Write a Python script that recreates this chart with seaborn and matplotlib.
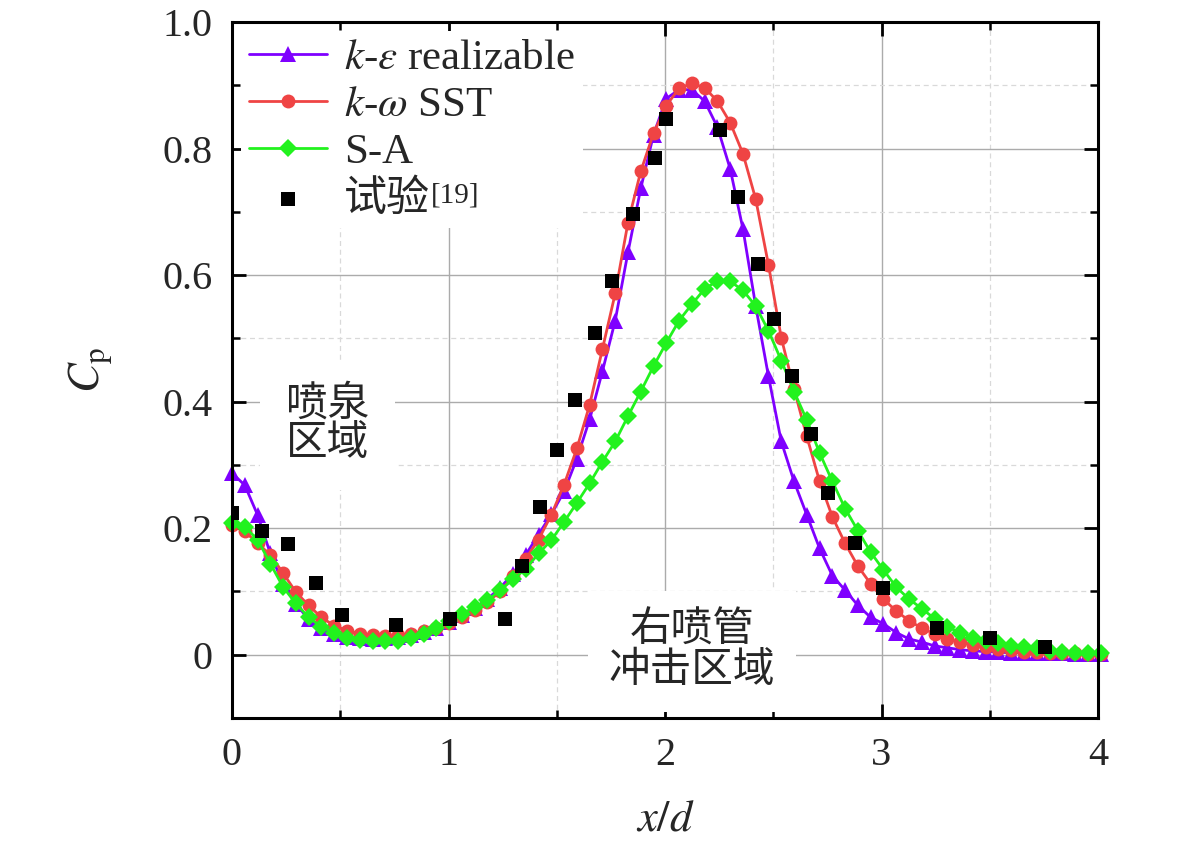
import numpy as np
import pandas as pd
import matplotlib
matplotlib.use("Agg")
import matplotlib.pyplot as plt
import seaborn as sns
from matplotlib.ticker import MultipleLocator, FuncFormatter

# ---------------- data ----------------
x_cfd = [0.000, 0.059, 0.118, 0.177, 0.236, 0.295, 0.354, 0.413, 0.472, 0.531,
         0.590, 0.649, 0.708, 0.767, 0.826, 0.885, 0.944, 1.003, 1.062, 1.121,
         1.180, 1.239, 1.298, 1.357, 1.416, 1.475, 1.534, 1.593, 1.652, 1.711,
         1.770, 1.829, 1.888, 1.947, 2.006, 2.065, 2.124, 2.183, 2.242, 2.301,
         2.360, 2.419, 2.478, 2.537, 2.596, 2.655, 2.714, 2.773, 2.832, 2.891,
         2.950, 3.009, 3.068, 3.127, 3.186, 3.245, 3.304, 3.363, 3.422, 3.481,
         3.540, 3.599, 3.658, 3.717, 3.776, 3.835, 3.894, 3.953, 4.012]

cp_ke = [0.287, 0.268, 0.221, 0.160, 0.112, 0.080, 0.056, 0.042, 0.033, 0.028,
         0.026, 0.025, 0.026, 0.028, 0.031, 0.036, 0.043, 0.052, 0.062, 0.074,
         0.088, 0.106, 0.128, 0.158, 0.190, 0.222, 0.258, 0.310, 0.372, 0.448,
         0.528, 0.636, 0.737, 0.822, 0.879, 0.893, 0.893, 0.875, 0.834, 0.768,
         0.673, 0.551, 0.440, 0.337, 0.274, 0.221, 0.168, 0.125, 0.102, 0.078,
         0.059, 0.049, 0.035, 0.025, 0.020, 0.014, 0.011, 0.008, 0.006, 0.005,
         0.004, 0.003, 0.003, 0.002, 0.002, 0.002, 0.001, 0.001, 0.001]

cp_kw = [0.205, 0.195, 0.176, 0.158, 0.129, 0.099, 0.078, 0.059, 0.046, 0.038,
         0.033, 0.031, 0.030, 0.031, 0.033, 0.037, 0.043, 0.050, 0.059, 0.070,
         0.083, 0.100, 0.124, 0.152, 0.182, 0.221, 0.269, 0.326, 0.395, 0.483,
         0.571, 0.683, 0.764, 0.824, 0.868, 0.895, 0.903, 0.896, 0.875, 0.841,
         0.792, 0.720, 0.616, 0.501, 0.420, 0.345, 0.274, 0.218, 0.176, 0.140,
         0.112, 0.088, 0.069, 0.054, 0.042, 0.033, 0.025, 0.020, 0.016, 0.012,
         0.009, 0.007, 0.005, 0.004, 0.003, 0.002, 0.002, 0.001, 0.001]

cp_sa = [0.208, 0.202, 0.182, 0.144, 0.107, 0.081, 0.059, 0.044, 0.035, 0.027,
         0.024, 0.021, 0.021, 0.022, 0.027, 0.033, 0.043, 0.054, 0.065, 0.075,
         0.086, 0.102, 0.119, 0.136, 0.160, 0.181, 0.210, 0.240, 0.271, 0.305,
         0.337, 0.377, 0.416, 0.456, 0.493, 0.528, 0.554, 0.578, 0.591, 0.590,
         0.576, 0.551, 0.512, 0.465, 0.416, 0.371, 0.319, 0.274, 0.231, 0.196,
         0.162, 0.134, 0.107, 0.088, 0.073, 0.057, 0.044, 0.035, 0.027, 0.022,
         0.018, 0.014, 0.012, 0.010, 0.006, 0.004, 0.003, 0.002, 0.002]

x_exp = [0.000, 0.137, 0.260, 0.388, 0.509, 0.757, 1.007, 1.261, 1.338, 1.423,
         1.503, 1.584, 1.677, 1.754, 1.851, 1.954, 2.005, 2.254, 2.336, 2.431,
         2.503, 2.586, 2.673, 2.754, 2.878, 3.009, 3.255, 3.501, 3.755]
cp_exp = [0.224, 0.196, 0.175, 0.113, 0.063, 0.047, 0.057, 0.056, 0.141, 0.234,
          0.324, 0.402, 0.508, 0.591, 0.696, 0.785, 0.846, 0.829, 0.724, 0.617,
          0.531, 0.441, 0.349, 0.255, 0.177, 0.106, 0.042, 0.027, 0.013]

series_labels = [r"$k$-$\varepsilon$ realizable", r"$k$-$\omega$ SST", "S-A", "试验"]
exp_ref = "[19]"
region_left = "喷泉\n区域"
region_right = "右喷管\n冲击区域"
x_ticks = [0, 1, 2, 3, 4]
y_ticks = [0, 0.2, 0.4, 0.6, 0.8, 1.0]

# ---------------- style ----------------
sns.set_theme(style="ticks")
plt.rcParams["font.family"] = ["Liberation Serif", "Noto Sans CJK SC"]
plt.rcParams["mathtext.fontset"] = "stix"
plt.rcParams["axes.unicode_minus"] = False

fig = plt.figure(figsize=(11.81, 8.46), dpi=100)
ax = fig.add_axes([232 / 1181, 1 - 718 / 846, (1098 - 232) / 1181, (718 - 22) / 846])

c_ke, c_kw, c_sa = "#7F00FF", "#EF4444", "#22F21E"

sns.lineplot(x=x_cfd, y=cp_ke, ax=ax, color=c_ke, marker="^", markersize=11,
             markeredgewidth=0, linewidth=2.0, label=series_labels[0],
             estimator=None, sort=False, zorder=3, clip_on=False)
sns.lineplot(x=x_cfd, y=cp_kw, ax=ax, color=c_kw, marker="o", markersize=10,
             markeredgewidth=0, linewidth=2.0, label=series_labels[1],
             estimator=None, sort=False, zorder=4, clip_on=False)
sns.lineplot(x=x_cfd, y=cp_sa, ax=ax, color=c_sa, marker="D", markersize=9,
             markeredgewidth=0, linewidth=2.0, label=series_labels[2],
             estimator=None, sort=False, zorder=5, clip_on=False)
sns.scatterplot(x=x_exp, y=cp_exp, ax=ax, color="black", marker="s", s=95,
                linewidth=0, label=series_labels[3], zorder=6)

ax.set_xlim(0, 4)
ax.set_ylim(-0.1, 1.0)
ax.set_xticks(x_ticks)
ax.set_yticks(y_ticks)
ax.xaxis.set_minor_locator(MultipleLocator(0.5))
ax.yaxis.set_minor_locator(MultipleLocator(0.1))
ax.xaxis.set_major_formatter(FuncFormatter(lambda v, p: f"{v:g}"))
ax.yaxis.set_major_formatter(FuncFormatter(lambda v, p: "0" if abs(v) < 1e-9 else f"{v:.1f}"))

ax.set_axisbelow(True)
ax.grid(which="major", color="#ABABAB", linewidth=1.0, linestyle="-", zorder=0)
ax.grid(which="minor", color="#D9D9D9", linewidth=0.9, linestyle=(0, (4, 3)), zorder=0)

for s in ax.spines.values():
    s.set_linewidth(2.2)
    s.set_color("black")
    s.set_zorder(7)

ax.tick_params(which="both", direction="in", top=True, right=True, color="black")
ax.tick_params(which="major", length=10, width=2.0, labelsize=29)
ax.tick_params(which="minor", length=5.5, width=1.8)
ax.tick_params(axis="y", which="major", pad=14)
ax.tick_params(axis="x", which="major", pad=14)

ax.set_xlabel(r"$x/d$", fontsize=32, labelpad=18)
ax.set_ylabel(r"$C_\mathrm{p}$", fontsize=32, labelpad=34)

# region annotations with white background
ax.text(0.443, 0.363, region_left, ha="center", va="center", multialignment="center",
        fontsize=30, linespacing=1.05, zorder=2,
        bbox=dict(boxstyle="square,pad=0.62", facecolor="white", edgecolor="none"))
ax.text(2.125, 0.005, region_right, ha="center", va="center", multialignment="center",
        fontsize=30, linespacing=1.05, zorder=2,
        bbox=dict(boxstyle="square,pad=0.5", facecolor="white", edgecolor="none"))

leg = ax.legend(loc="upper left", bbox_to_anchor=(0.0, 1.0), fontsize=31,
                frameon=True, fancybox=False, facecolor="white", edgecolor="none",
                framealpha=1.0, handlelength=1.8, handletextpad=0.4,
                labelspacing=0.18, borderpad=0.2, borderaxespad=0.2)
leg.set_zorder(8)

# superscript reference after "试验"
fig.canvas.draw()
exp_text = leg.get_texts()[3]
ax.annotate(exp_ref, xy=(1.0, 0.93), xycoords=exp_text, xytext=(1, 0),
            textcoords="offset points", ha="left", va="top", fontsize=21,
            zorder=9, annotation_clip=False)

fig.savefig("out.png", dpi=100)
